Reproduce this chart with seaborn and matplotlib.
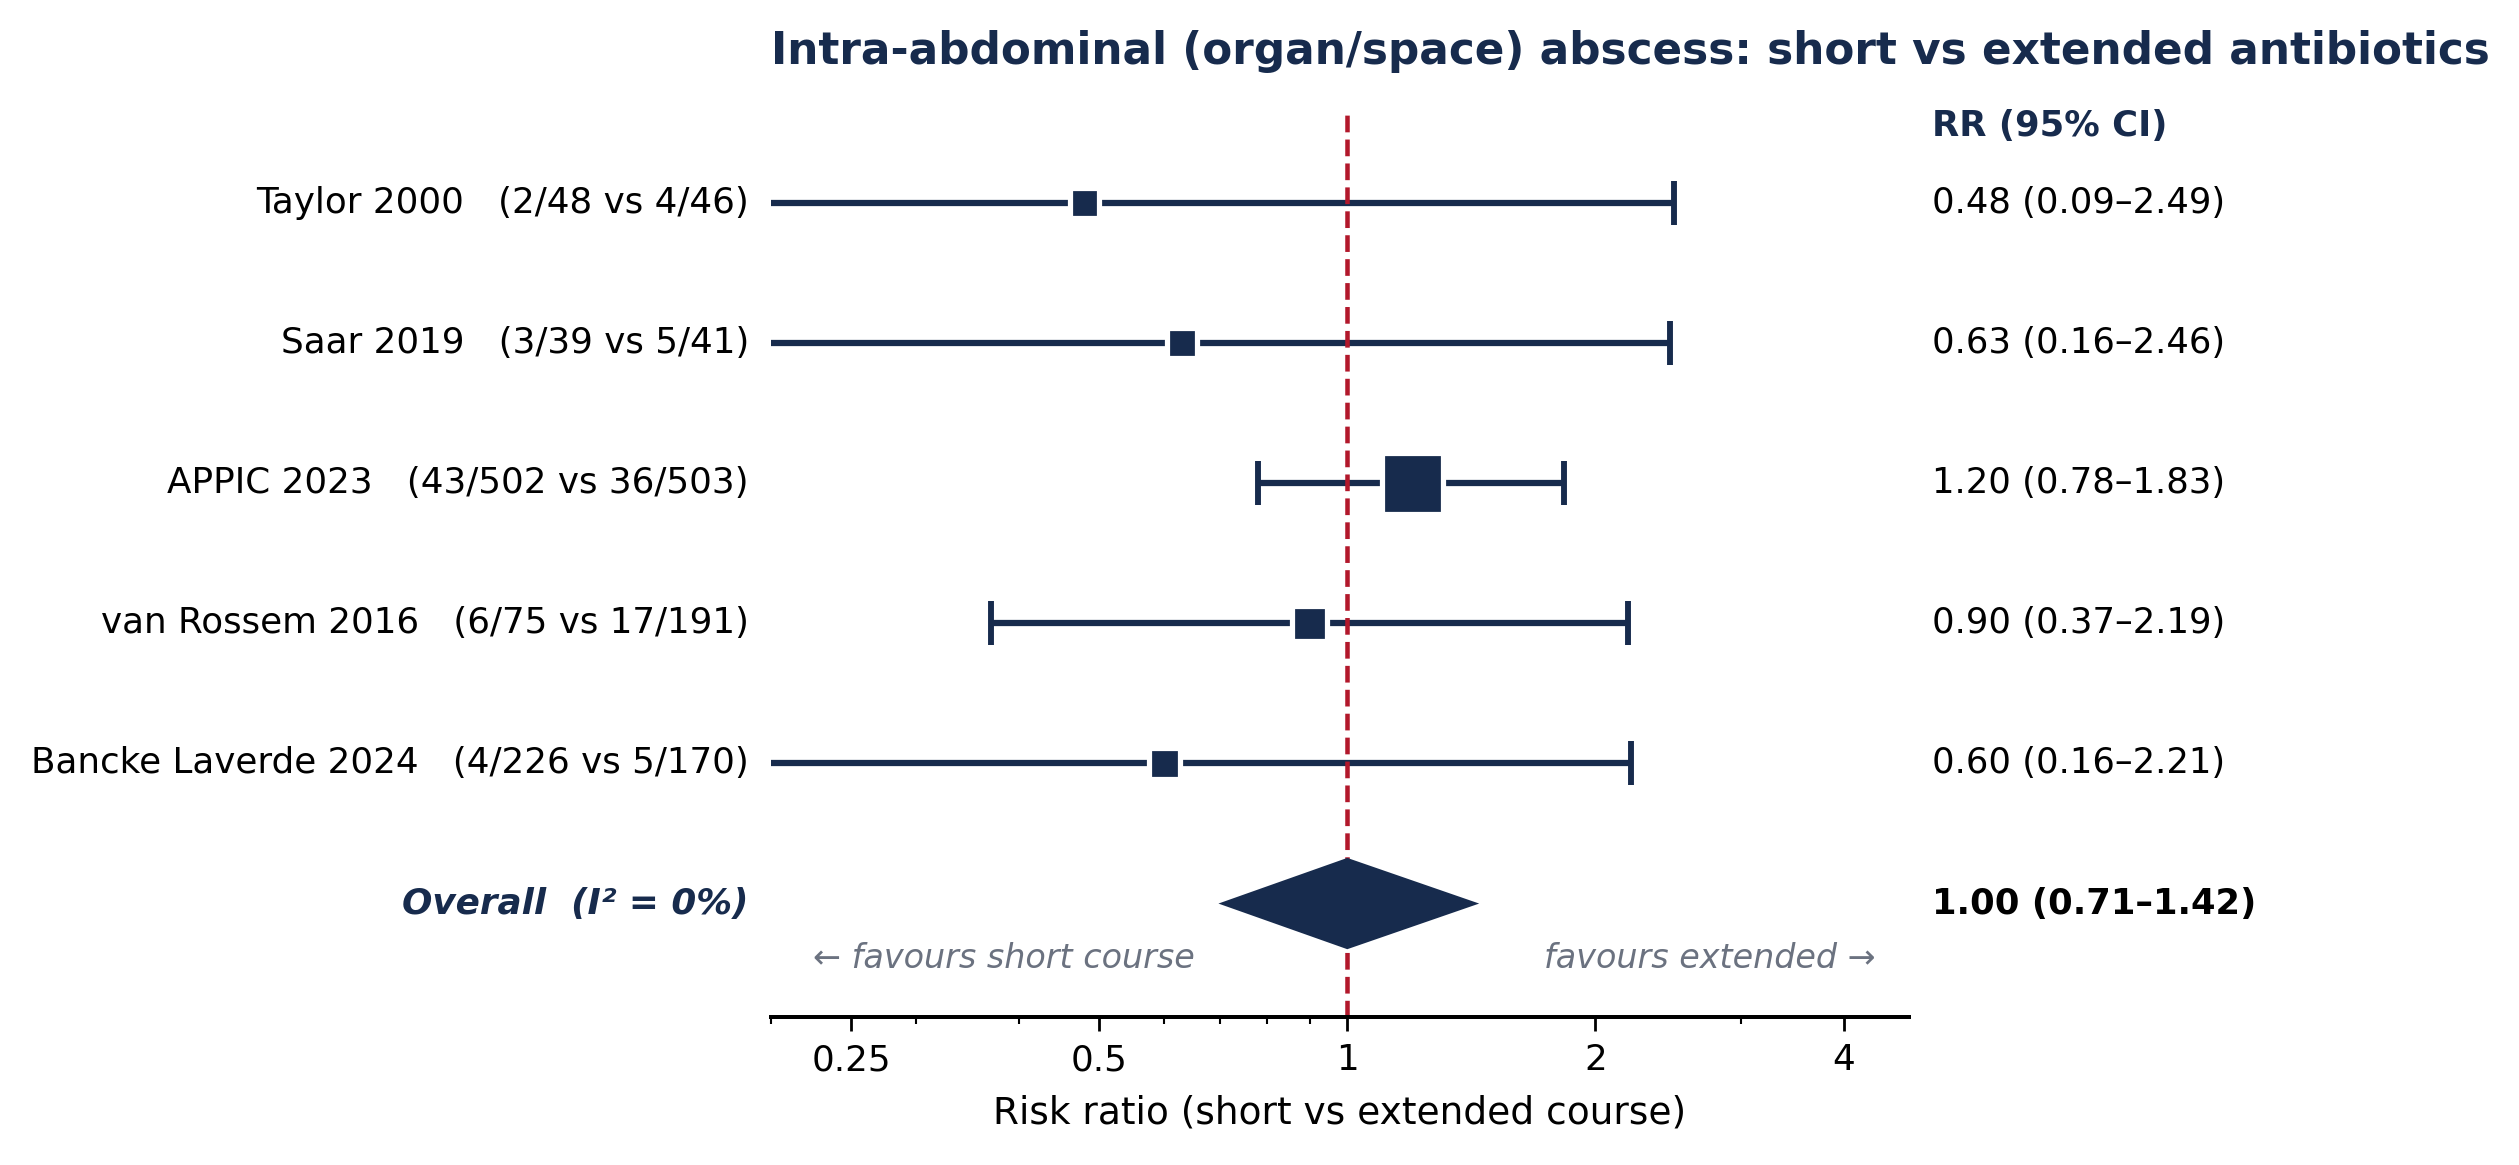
import numpy as np
import pandas as pd
import seaborn as sns
import matplotlib.pyplot as plt
from matplotlib.ticker import FixedLocator, FixedFormatter, NullFormatter

# study level data
studies = ["Taylor 2000", "Saar 2019", "APPIC 2023", "van Rossem 2016", "Bancke Laverde 2024"]
counts = ["2/48 vs 4/46", "3/39 vs 5/41", "43/502 vs 36/503", "6/75 vs 17/191", "4/226 vs 5/170"]
rr = [0.48, 0.63, 1.20, 0.90, 0.60]
ci_low = [0.09, 0.16, 0.78, 0.37, 0.16]
ci_high = [2.49, 2.46, 1.83, 2.19, 2.21]

# pooled estimate
pooled_rr = 1.00
pooled_low = 0.71
pooled_high = 1.42
i_squared = 0

xticks = [0.25, 0.5, 1, 2, 4]
xtick_labels = ["0.25", "0.5", "1", "2", "4"]

navy = "#172B4D"
red = "#B2182B"
grey = "#6B7280"

df = pd.DataFrame({"study": studies, "counts": counts, "rr": rr,
                   "lo": ci_low, "hi": ci_high})
df["y"] = np.arange(len(df), 0, -1)
# inverse-variance weights -> marker size
se = (np.log(df["hi"]) - np.log(df["lo"])) / (2 * 1.96)
w = 1 / se**2
df["pct"] = 100 * w / w.sum()
df["ms"] = 7.8 + 0.147 * df["pct"]

sns.set_theme(style="white")
plt.rcParams["font.family"] = ["DejaVu Sans"]

fig, ax = plt.subplots(figsize=(2519 / 250, 1165 / 250), dpi=250)
fig.subplots_adjust(left=0.3061, right=0.7578, bottom=0.127, top=0.9039)

ax.errorbar(df["rr"], df["y"],
            xerr=[df["rr"] - df["lo"], df["hi"] - df["rr"]],
            fmt="none", ecolor=navy, elinewidth=1.8,
            capsize=6.4, capthick=1.7, zorder=2)
ax.axvline(1, color=red, ls="--", lw=1.3, zorder=2.5)
sns.scatterplot(data=df, x="rr", y="y", marker="s", s=df["ms"] ** 2,
                color=navy, edgecolor="white", linewidth=1.5,
                zorder=3, legend=False, ax=ax)

# pooled diamond
h = 0.31
ax.fill([pooled_low, pooled_rr, pooled_high, pooled_rr], [0, h, 0, -h],
        facecolor=navy, edgecolor=navy, lw=1.2, zorder=4)

ax.set_xscale("log")
ax.set_xlim(0.2, 4.8)
ax.set_ylim(-0.81, 5.65)
ax.xaxis.set_major_locator(FixedLocator(xticks))
ax.xaxis.set_major_formatter(FixedFormatter(xtick_labels))
ax.xaxis.set_minor_formatter(NullFormatter())
ax.tick_params(axis="x", which="major", length=4.1, width=0.8, labelsize=10.3,
               color="black", labelcolor="black", bottom=True)
ax.tick_params(axis="x", which="minor", length=2, width=0.6, color="black", bottom=True)
ax.set_yticks([])
for s in ["top", "right", "left"]:
    ax.spines[s].set_visible(False)
ax.spines["bottom"].set_linewidth(1.15)
ax.spines["bottom"].set_color("black")

ax.set_xlabel("Risk ratio (short vs extended course)", fontsize=10.8,
              color="black", labelpad=5)
ax.set_ylabel("")
ax.set_title("Intra-abdominal (organ/space) abscess: short vs extended antibiotics",
             loc="left", fontsize=12.6, fontweight="bold", color=navy, pad=13.8)

tr = ax.get_yaxis_transform()
for _, r in df.iterrows():
    ax.text(-0.0195, r["y"], f"{r['study']}   ({r['counts']})", transform=tr,
            ha="right", va="center", fontsize=10.3, color="black")
    ax.text(1.02, r["y"], f"{r['rr']:.2f} ({r['lo']:.2f}\u2013{r['hi']:.2f})",
            transform=tr, ha="left", va="center", fontsize=10.2, color="black")

ax.text(1.02, 5.55, "RR (95% CI)", transform=tr, ha="left", va="center",
        fontsize=10.2, fontweight="bold", color=navy)
ax.text(-0.0195, 0, f"Overall  (I\u00b2 = {i_squared}%)", transform=tr,
        ha="right", va="center", fontsize=10.3, fontweight="bold",
        fontstyle="italic", color=navy)
ax.text(1.02, 0, f"{pooled_rr:.2f} ({pooled_low:.2f}\u2013{pooled_high:.2f})",
        transform=tr, ha="left", va="center", fontsize=10.2, fontweight="bold",
        color="black")

ax.text(0.037, -0.39, "\u2190 favours short course", transform=tr, ha="left",
        va="center", fontsize=9.6, fontstyle="italic", color=grey)
ax.text(0.971, -0.39, "favours extended \u2192", transform=tr, ha="right",
        va="center", fontsize=9.6, fontstyle="italic", color=grey)

fig.savefig("out.png", dpi=250)
